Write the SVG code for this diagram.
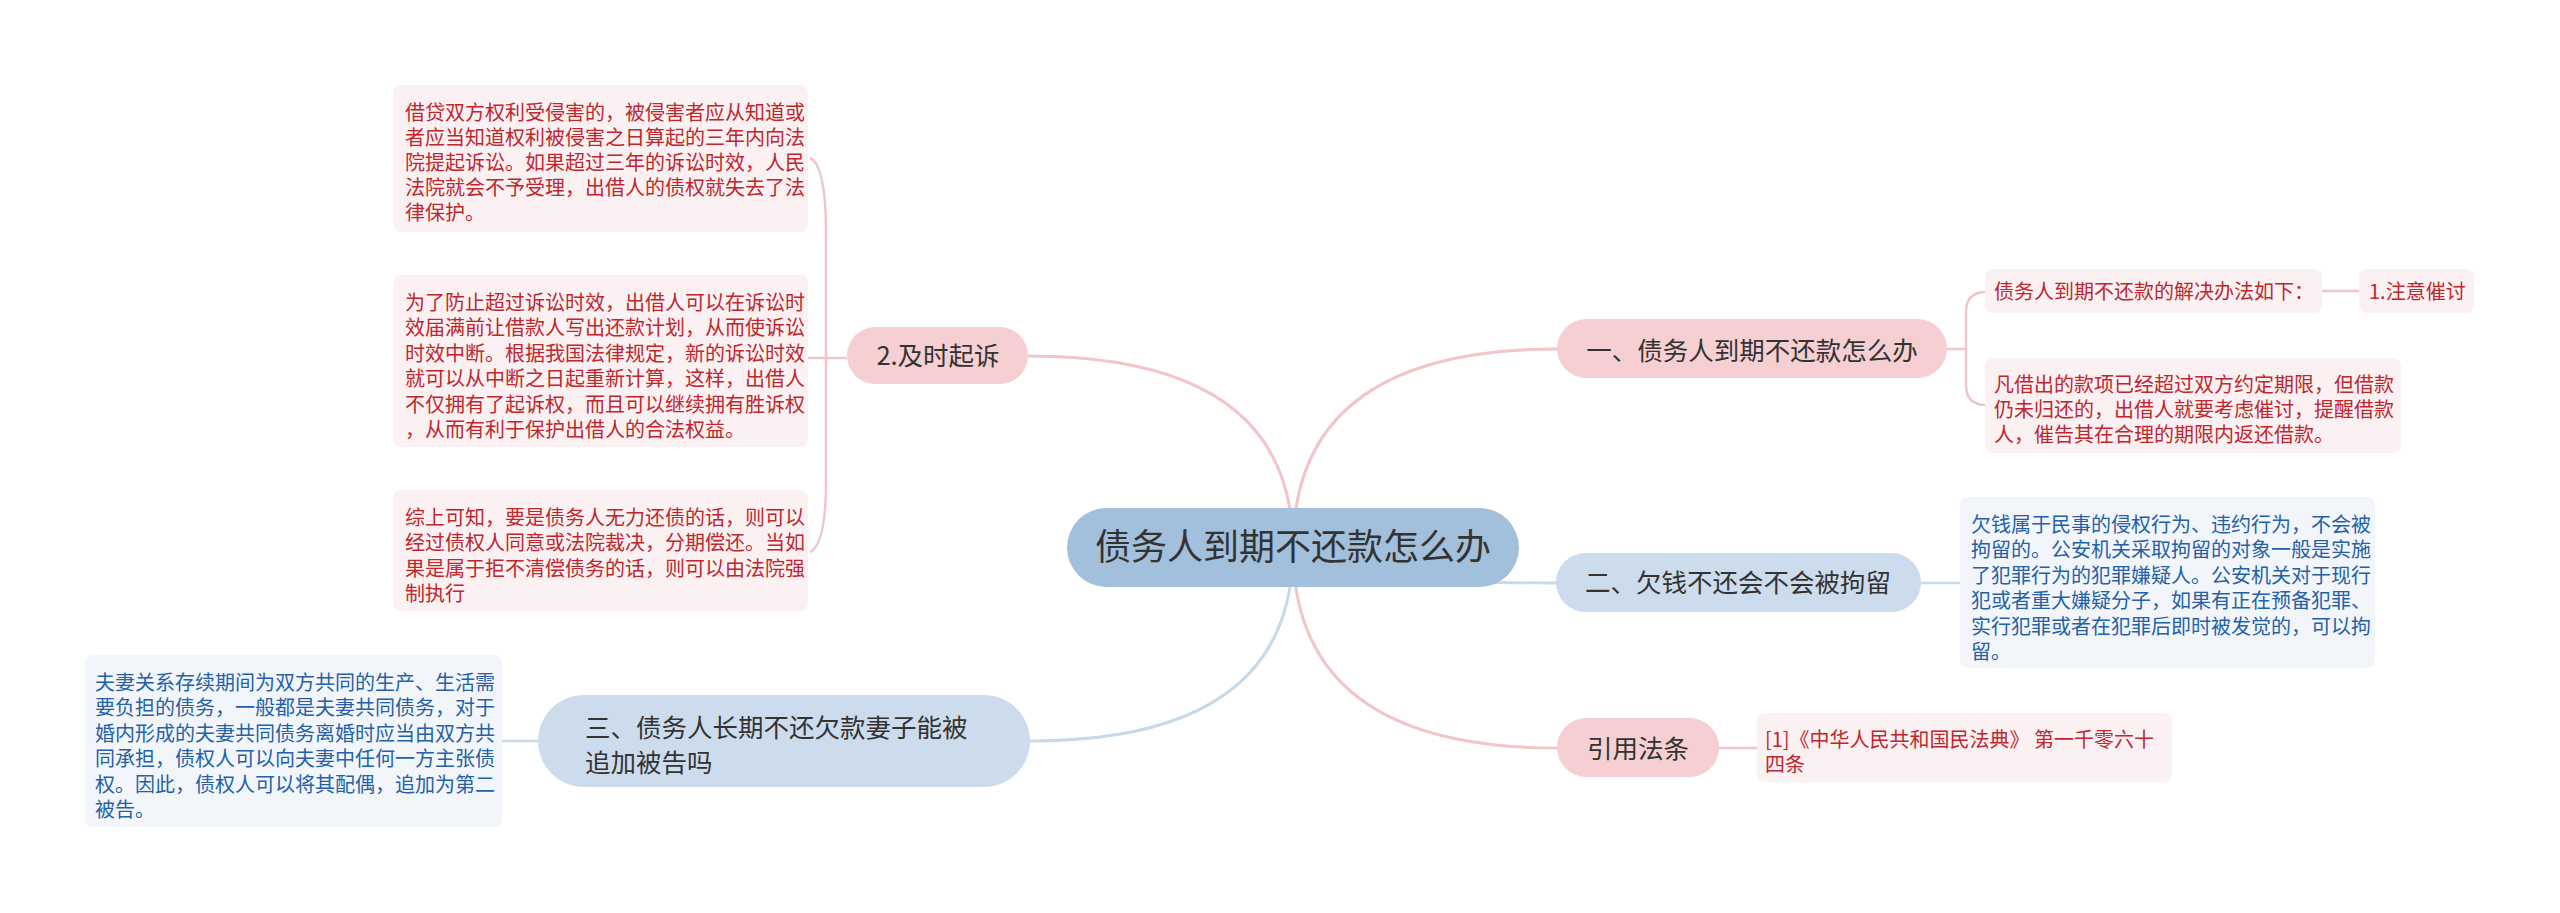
<svg xmlns="http://www.w3.org/2000/svg" width="2560" height="913" viewBox="0 0 2560 913">
<style>
text{font-family:"Noto Sans CJK SC","Noto Sans",sans-serif;}
.root{fill:#a2bfdc;}
.rt{font-size:36px;fill:#333;text-anchor:middle;}
.bp{fill:#f5cfd1;}
.bb{fill:#cddcec;}
.bt{font-size:25.5px;fill:#333;}
.c{text-anchor:middle;}
.tp{fill:#fcf1f2;}
.tb{fill:#f2f6fb;}
.red{font-size:20px;fill:#c0262d;}
.blue{font-size:20px;fill:#2461a8;}
.lp{fill:none;stroke:#f2c5c8;stroke-width:3;}
.lb{fill:none;stroke:#c8d9ea;stroke-width:3;}
.sp{fill:none;stroke:#f0c7c9;stroke-width:2.5;}
.sb{fill:none;stroke:#c8d9ea;stroke-width:2.5;}
</style>
<rect width="2560" height="913" fill="#ffffff"/>
<g id="connectors">
<path class="lp" d="M1293,548 Q1293,356 1028,356"/>
<path class="lp" d="M1293,548 Q1293,349 1557,349"/>
<path class="lb" d="M1293,548 Q1293,583 1556,583"/>
<path class="lp" d="M1293,548 Q1293,748 1557,748"/>
<path class="lb" d="M1293,548 Q1293,741 1030,741"/>
<path class="sp" d="M808,358 H847"/>
<path class="sp" d="M810,158 Q826,165 826,235 V480 Q826,545 810,552"/>
<path class="sp" d="M1947,349 H1966"/>
<path class="sp" d="M1986,292 Q1966,292 1966,312 V385 Q1966,405 1986,405"/>
<path class="sp" d="M2322,291 H2359"/>
<path class="sb" d="M1921,583 H1960"/>
<path class="sp" d="M1719,748 H1757"/>
<path class="sb" d="M502,741 H538"/>
</g>
<g id="root">
<rect class="root" x="1067" y="508" width="452" height="79" rx="39.5"/>
<text class="rt" x="1293" y="560">债务人到期不还款怎么办</text>
</g>
<g id="b1">
<rect class="bp" x="1557" y="319" width="390" height="59" rx="29.5"/>
<text class="bt c" x="1752" y="360">一、债务人到期不还款怎么办</text>
</g>
<g id="b1a">
<rect class="tp" x="1985" y="269" width="337" height="44" rx="8"/>
<text class="red" x="1994" y="298.5">债务人到期不还款的解决办法如下：</text>
</g>
<g id="b1a1">
<rect class="tp" x="2359" y="269" width="115" height="44" rx="8"/>
<text class="red" x="2369" y="298.5">1.注意催讨</text>
</g>
<g id="b1b">
<rect class="tp" x="1985" y="358" width="416" height="95" rx="8"/>
<text class="red" x="1994" y="391.5">凡借出的款项已经超过双方约定期限，但借款</text>
<text class="red" x="1994" y="416.5">仍未归还的，出借人就要考虑催讨，提醒借款</text>
<text class="red" x="1994" y="441.5">人，催告其在合理的期限内返还借款。</text>
</g>
<g id="b2">
<rect class="bb" x="1556" y="553" width="365" height="59" rx="29.5"/>
<text class="bt c" x="1738" y="592">二、欠钱不还会不会被拘留</text>
</g>
<g id="b2a">
<rect class="tb" x="1960" y="497" width="415" height="171" rx="8"/>
<text class="blue" x="1971" y="531.5">欠钱属于民事的侵权行为、违约行为，不会被</text>
<text class="blue" x="1971" y="557">拘留的。公安机关采取拘留的对象一般是实施</text>
<text class="blue" x="1971" y="582.5">了犯罪行为的犯罪嫌疑人。公安机关对于现行</text>
<text class="blue" x="1971" y="608">犯或者重大嫌疑分子，如果有正在预备犯罪、</text>
<text class="blue" x="1971" y="633.5">实行犯罪或者在犯罪后即时被发觉的，可以拘</text>
<text class="blue" x="1971" y="659">留。</text>
</g>
<g id="b3">
<rect class="bp" x="1557" y="718" width="162" height="59" rx="29.5"/>
<text class="bt c" x="1638" y="758">引用法条</text>
</g>
<g id="b3a">
<rect class="tp" x="1757" y="713" width="415" height="69" rx="8"/>
<text class="red" x="1765" y="746.5">[1]《中华人民共和国民法典》 第一千零六十</text>
<text class="red" x="1765" y="771.5">四条</text>
</g>
<g id="b4">
<rect class="bp" x="847" y="327" width="181" height="57" rx="28.5"/>
<text class="bt c" x="938" y="365">2.及时起诉</text>
</g>
<g id="b4a">
<rect class="tp" x="393" y="85" width="415" height="147" rx="8"/>
<text class="red" x="405" y="119.5">借贷双方权利受侵害的，被侵害者应从知道或</text>
<text class="red" x="405" y="144.5">者应当知道权利被侵害之日算起的三年内向法</text>
<text class="red" x="405" y="169.5">院提起诉讼。如果超过三年的诉讼时效，人民</text>
<text class="red" x="405" y="194.5">法院就会不予受理，出借人的债权就失去了法</text>
<text class="red" x="405" y="219.5">律保护。</text>
</g>
<g id="b4b">
<rect class="tp" x="393" y="275" width="415" height="172" rx="8"/>
<text class="red" x="405" y="309.5">为了防止超过诉讼时效，出借人可以在诉讼时</text>
<text class="red" x="405" y="335">效届满前让借款人写出还款计划，从而使诉讼</text>
<text class="red" x="405" y="360.5">时效中断。根据我国法律规定，新的诉讼时效</text>
<text class="red" x="405" y="386">就可以从中断之日起重新计算，这样，出借人</text>
<text class="red" x="405" y="411.5">不仅拥有了起诉权，而且可以继续拥有胜诉权</text>
<text class="red" x="405" y="437">，从而有利于保护出借人的合法权益。</text>
</g>
<g id="b4c">
<rect class="tp" x="393" y="490" width="415" height="121" rx="8"/>
<text class="red" x="405" y="524.5">综上可知，要是债务人无力还债的话，则可以</text>
<text class="red" x="405" y="550">经过债权人同意或法院裁决，分期偿还。当如</text>
<text class="red" x="405" y="575.5">果是属于拒不清偿债务的话，则可以由法院强</text>
<text class="red" x="405" y="601">制执行</text>
</g>
<g id="b5">
<rect class="bb" x="538" y="695" width="492" height="92" rx="46"/>
<text class="bt" x="585" y="737">三、债务人长期不还欠款妻子能被</text>
<text class="bt" x="585" y="772">追加被告吗</text>
</g>
<g id="b5a">
<rect class="tb" x="85" y="655" width="417" height="172" rx="8"/>
<text class="blue" x="95" y="689.5">夫妻关系存续期间为双方共同的生产、生活需</text>
<text class="blue" x="95" y="715">要负担的债务，一般都是夫妻共同债务，对于</text>
<text class="blue" x="95" y="740.5">婚内形成的夫妻共同债务离婚时应当由双方共</text>
<text class="blue" x="95" y="766">同承担，债权人可以向夫妻中任何一方主张债</text>
<text class="blue" x="95" y="791.5">权。因此，债权人可以将其配偶，追加为第二</text>
<text class="blue" x="95" y="817">被告。</text>
</g>
</svg>
